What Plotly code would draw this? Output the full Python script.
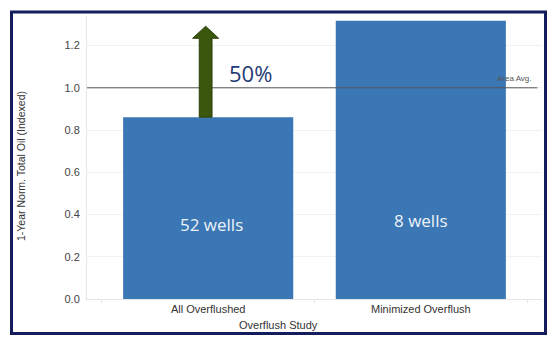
import plotly.graph_objects as go

# Study groups and their indexed 1-year normalized oil
categories = ["All Overflushed", "Minimized Overflush"]
oil_index = [0.861, 1.317]
well_counts = [52, 8]
area_avg = 1.0
uplift_pct = 50
y_ticks = [0.0, 0.2, 0.4, 0.6, 0.8, 1.0, 1.2]

BAR_COLOR = "#3a77b4"
ARROW_COLOR = "#3b560d"
FRAME_COLOR = "#141c5c"

fig = go.Figure()
fig.add_trace(go.Bar(
    x=categories, y=oil_index, width=0.8,
    marker=dict(color=BAR_COLOR, line=dict(width=0)),
    hoverinfo="skip", showlegend=False,
))

# Area average reference line
fig.add_shape(type="line", xref="paper", yref="y", x0=0, x1=0.99,
              y0=area_avg, y1=area_avg, line=dict(color="#555555", width=1))
fig.add_annotation(xref="paper", yref="y", x=0.94, y=area_avg, yshift=9,
                   xanchor="center", yanchor="middle",
                   text="Area Avg.", showarrow=False,
                   font=dict(family="Arial", size=8, color="#555555"))

# Uplift arrow rising from the first bar by the stated percentage
base = oil_index[0]
tip = base * (1 + uplift_pct / 100)
cx = -0.012
shaft_hw, head_hw = 0.03, 0.061
head_base = tip - 0.057
path = (f"M {cx - shaft_hw},{base} L {cx - shaft_hw},{head_base} "
        f"L {cx - head_hw},{head_base} L {cx},{tip} L {cx + head_hw},{head_base} "
        f"L {cx + shaft_hw},{head_base} L {cx + shaft_hw},{base} Z")
fig.add_shape(type="path", xref="x", yref="y", path=path,
              fillcolor=ARROW_COLOR, line=dict(color="#2c3f09", width=1))
fig.add_annotation(xref="x", yref="y", x=0.2, y=1.071, text=f"{uplift_pct}%",
                   xanchor="center", yanchor="middle", showarrow=False,
                   font=dict(family="Open Sans", size=22, color="#1f3a75"))

# Well count labels inside bars
for i, (cat, n) in enumerate(zip(categories, well_counts)):
    fig.add_annotation(xref="x", yref="y", x=i + 0.014 * (1 - i),
                       y=0.355 if i == 0 else 0.374,
                       xanchor="center", yanchor="middle",
                       text=f"{n} wells", showarrow=False,
                       font=dict(family="Open Sans", size=17, color="#eef2f8"))

# Axis titles
fig.add_annotation(xref="paper", yref="paper", x=-0.145, y=0.47,
                   xanchor="center", yanchor="middle",
                   text="1-Year Norm. Total Oil (Indexed)", textangle=-90,
                   showarrow=False,
                   font=dict(family="Arial", size=10.5, color="#333333"))
fig.add_annotation(xref="paper", yref="paper", x=0.421, y=-0.092,
                   xanchor="center", yanchor="middle",
                   text="Overflush Study", showarrow=False,
                   font=dict(family="Arial", size=11, color="#333333"))

# Outer frame
fig.add_shape(type="rect", xref="paper", yref="paper",
              x0=(11.5 - 87) / 455, x1=(545.5 - 87) / 455,
              y0=(299 - 333.5) / 283, y1=(299 - 12) / 283,
              line=dict(color=FRAME_COLOR, width=3), layer="above")

fig.update_layout(
    width=559, height=347,
    margin=dict(l=87, r=17, t=16, b=48),
    paper_bgcolor="white", plot_bgcolor="white",
    bargap=0.2,
    xaxis=dict(
        range=[-0.57, 1.57], showgrid=False, zeroline=False,
        showline=True, linecolor="#e6e6e6", linewidth=1,
        tickson="boundaries", ticks="outside", ticklen=3, tickcolor="#e6e6e6",
        tickfont=dict(family="Arial", size=11, color="#333333"),
    ),
    yaxis=dict(
        range=[0, 1.34], tickvals=y_ticks,
        ticktext=[f"{v:.1f}" for v in y_ticks],
        showgrid=True, gridcolor="#f2f2f2", zeroline=False,
        showline=True, linecolor="#e6e6e6", linewidth=1,
        tickfont=dict(family="Arial", size=11, color="#444444"),
        ticks="", ticklabelstandoff=4,
    ),
)

fig.write_html("out.html")
